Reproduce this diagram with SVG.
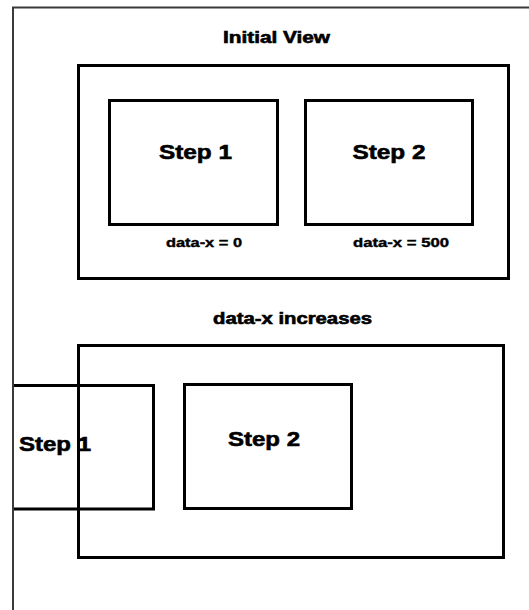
<svg xmlns="http://www.w3.org/2000/svg" width="529" height="610" viewBox="0 0 529 610">
<style>
.frame{fill:none;stroke:#3a3a3a;stroke-width:2}
.box{fill:none;stroke:#000;stroke-width:3}
.t{font-family:"Liberation Sans",Arial,sans-serif;font-weight:bold;fill:#000;stroke:#000;stroke-width:0.6;text-anchor:middle}
.title{font-size:16px}
.step{font-size:21px}
.lbl{font-size:13px;stroke-width:0.4}
</style>
<rect width="529" height="610" fill="#fff"/>
<path class="frame" d="M13,610 V7.5 H529"/>
<g id="initial-view">
<text class="t title" x="276.5" y="43" textLength="107" lengthAdjust="spacingAndGlyphs">Initial View</text>
<rect id="viewport-top" class="box" x="78.5" y="65.5" width="430" height="213"/>
<g id="step1-top">
<rect class="box" x="109.5" y="100.5" width="168" height="124"/>
<text class="t step" x="195.5" y="159" textLength="73" lengthAdjust="spacingAndGlyphs">Step 1</text>
<text class="t lbl" x="204" y="247" textLength="76" lengthAdjust="spacingAndGlyphs">data-x = 0</text>
</g>
<g id="step2-top">
<rect class="box" x="305.5" y="100.5" width="167" height="124"/>
<text class="t step" x="389" y="159" textLength="73" lengthAdjust="spacingAndGlyphs">Step 2</text>
<text class="t lbl" x="401" y="247" textLength="96" lengthAdjust="spacingAndGlyphs">data-x = 500</text>
</g>
</g>
<g id="increased-view">
<text class="t title" x="292.5" y="324" textLength="159" lengthAdjust="spacingAndGlyphs">data-x increases</text>
<rect id="viewport-bottom" class="box" x="78.5" y="345.5" width="425" height="212"/>
<g id="step1-bottom">
<path class="box" d="M14,385.5 H153.5 V509 H14"/>
<text class="t step" x="55" y="451" textLength="72" lengthAdjust="spacingAndGlyphs">Step 1</text>
</g>
<g id="step2-bottom">
<rect class="box" x="184.5" y="384.5" width="167" height="124"/>
<text class="t step" x="264" y="446" textLength="72" lengthAdjust="spacingAndGlyphs">Step 2</text>
</g>
</g>
<g id="connectors"/>
</svg>
